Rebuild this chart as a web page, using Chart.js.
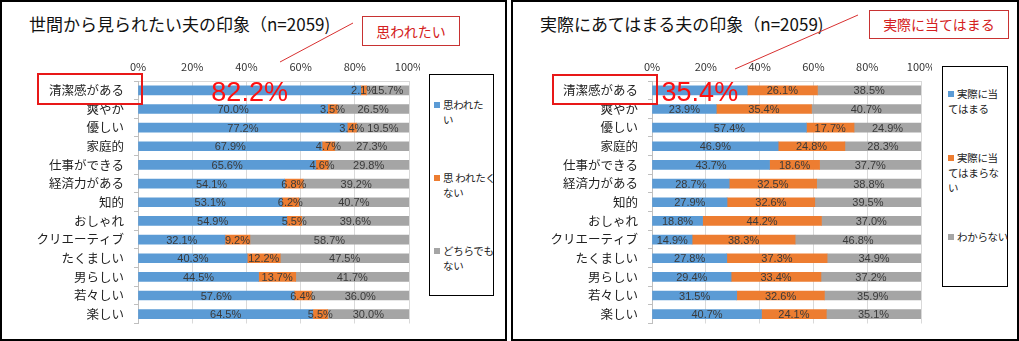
<!DOCTYPE html>
<html lang="ja">
<head>
<meta charset="utf-8">
<script src="https://cdn.jsdelivr.net/npm/chart.js@4.4.0/dist/chart.umd.min.js"></script>
<style>
body { margin:0; width:1019px; height:341px; background:#fff; position:relative; overflow:hidden; font-family:"Noto Sans CJK JP", sans-serif; color:#222; }
.panel { position:absolute; top:0; height:341px; border:2px solid #000; box-sizing:border-box; }
.chart-box { position:absolute; top:0; width:420px; height:341px; }
.title { position:absolute; top:14px; font-size:17px; line-height:20px; white-space:nowrap; color:#111; }
.legend { position:absolute; border:1.5px solid #000; box-sizing:border-box; display:flex; flex-direction:column; justify-content:space-between; background:#fff; }
.legend .item { font-size:10.5px; line-height:15px; letter-spacing:-0.3px; color:#222; display:flex; white-space:pre; }
.legend .mark { display:inline-block; width:6px; height:6px; margin:5px 3px 0 0; flex:none; }
.legend.inline .item { display:block; font-size:10.5px; }
.legend.inline .mark { margin:0 3px 1px 0; }
.callout { position:absolute; border:1px solid #c83232; color:#d42020; box-sizing:border-box; text-align:center; background:#fff; white-space:nowrap; }
.hilite { position:absolute; border:2px solid #e81818; box-sizing:border-box; }
svg { position:absolute; left:0; top:0; }
</style>
</head>
<body>
<div class="panel" style="left:0;width:507px;"></div>
<div class="panel" style="left:511px;width:508px;"></div>

<div class="title" style="left:29px;">世間から見られたい夫の印象（n=2059)</div>
<div class="title" style="left:540px;">実際にあてはまる夫の印象（n=2059)</div>

<div class="chart-box" style="left:0;"><canvas id="wantChart" width="420" height="341"></canvas></div>
<div class="chart-box" style="left:512px;"><canvas id="actualChart" width="420" height="341"></canvas></div>

<div class="legend" id="wantLegend" style="left:429px;top:74px;width:65px;height:222px;padding:22px 0 22px 4px;"></div>
<div class="legend inline" id="actualLegend" style="left:942px;top:66px;width:66px;height:221px;padding:19px 0 42px 5px;"></div>

<svg width="1019" height="341">
  <line x1="353" y1="23" x2="280" y2="62" stroke="#d83030" stroke-width="1"/>
  <line x1="858" y1="15" x2="735" y2="69" stroke="#d83030" stroke-width="1"/>
</svg>
<div class="callout" style="left:362px;top:16px;width:98px;height:30px;font-size:14px;line-height:28px;">思われたい</div>
<div class="callout" style="left:869px;top:10px;width:140px;height:29px;font-size:14px;line-height:27px;">実際に当てはまる</div>
<div class="hilite" style="left:37px;top:73px;width:106px;height:32px;"></div>
<div class="hilite" style="left:552px;top:74px;width:106px;height:31px;"></div>

<script>
const categories = ['清潔感がある', '爽やか', '優しい', '家庭的', '仕事ができる', '経済力がある', '知的', 'おしゃれ', 'クリエーティブ', 'たくましい', '男らしい', '若々しい', '楽しい'];

// left chart: how they want to be seen
const wantSeries = ['思われたい', '思われたくない', 'どちらでもない'];
const wantLegendLines = [['思われた', 'い'], ['思 われたく', 'ない'], ['どちらでも', 'ない']];
const wantYes = [82.2, 70.0, 77.2, 67.9, 65.6, 54.1, 53.1, 54.9, 32.1, 40.3, 44.5, 57.6, 64.5];
const wantNo = [2.1, 3.5, 3.4, 4.7, 4.6, 6.8, 6.2, 5.5, 9.2, 12.2, 13.7, 6.4, 5.5];
const wantNeither = [15.7, 26.5, 19.5, 27.3, 29.8, 39.2, 40.7, 39.6, 58.7, 47.5, 41.7, 36.0, 30.0];

// right chart: how they actually are
const actualSeries = ['実際に当てはまる', '実際に当てはまらない', 'わからない'];
const actualLegendLines = [['実際に当', 'てはまる'], ['実際に当', 'てはまらな', 'い'], ['わからない']];
const actualYes = [35.4, 23.9, 57.4, 46.9, 43.7, 28.7, 27.9, 18.8, 14.9, 27.8, 29.4, 31.5, 40.7];
const actualNo = [26.1, 35.4, 17.7, 24.8, 18.6, 32.5, 32.6, 44.2, 38.3, 37.3, 33.4, 32.6, 24.1];
const actualUnknown = [38.5, 40.7, 24.9, 28.3, 37.7, 38.8, 39.5, 37.0, 46.8, 34.9, 37.2, 35.9, 35.1];

const xTickValues = [0, 20, 40, 60, 80, 100];
const highlightRow = 0;

const colors = ['#5b9bd5', '#ed7d31', '#a5a5a5'];

Chart.defaults.font.family = '"Noto Sans CJK JP", sans-serif';
Chart.defaults.color = '#333';

// value labels in the middle of each segment, first blue one drawn big and red
const barLabels = {
    id: 'barLabels',
    afterDatasetsDraw(chart) {
        const ctx = chart.ctx;
        ctx.save();
        ctx.textAlign = 'center';
        ctx.textBaseline = 'middle';
        chart.data.datasets.forEach((ds, di) => {
            chart.getDatasetMeta(di).data.forEach((bar, i) => {
                const big = di === 0 && i === highlightRow;
                ctx.font = big ? '27px "Liberation Sans", sans-serif' : '11px "Liberation Sans", sans-serif';
                ctx.fillStyle = big ? '#ff1010' : '#3a3a3a';
                const x = (bar.x + bar.base) / 2;
                ctx.fillText(ds.data[i].toFixed(1) + '%', x, bar.y + (big ? 3 : 1));
            });
        });
        ctx.restore();
    }
};

function makeChart(id, series, values, yWidth) {
    const ctx = document.getElementById(id).getContext('2d');
    return new Chart(ctx, {
        type: 'bar',
        data: {
            labels: categories,
            datasets: series.map((name, k) => ({
                label: name,
                data: values[k],
                backgroundColor: colors[k],
                borderWidth: 0,
                barThickness: 9
            }))
        },
        options: {
            indexAxis: 'y',
            responsive: false,
            animation: false,
            devicePixelRatio: 1,
            layout: { padding: { left: 0, right: 11, top: 50, bottom: 13 } },
            plugins: {
                legend: { display: false },
                tooltip: { enabled: false }
            },
            scales: {
                x: {
                    position: 'top',
                    stacked: true,
                    min: 0,
                    max: 100,
                    afterFit: s => { s.height = 31; s.paddingLeft = 0; s.paddingRight = 0; },
                    afterBuildTicks: s => { s.ticks = xTickValues.map(v => ({ value: v })); },
                    grid: { color: '#d9d9d9', drawTicks: false },
                    border: { color: '#d9d9d9' },
                    ticks: {
                        padding: 8,
                        color: '#333',
                        font: { size: 11 },
                        callback: v => v + '%'
                    }
                },
                y: {
                    stacked: true,
                    afterFit: s => { s.width = yWidth; },
                    grid: { drawOnChartArea: false, drawTicks: true, tickLength: 4, offset: true, color: '#bfbfbf' },
                    border: { color: '#bfbfbf' },
                    ticks: { padding: 10, color: '#222', font: { size: 12.5 } }
                }
            }
        },
        plugins: [barLabels]
    });
}

function makeLegend(id, lines) {
    const box = document.getElementById(id);
    box.innerHTML = lines.map((ls, k) => {
        if (box.classList.contains('inline')) {
            return `<div class="item"><span class="mark" style="background:${colors[k]}"></span>${ls.join('<br>')}</div>`;
        }
        return `<div class="item"><span class="mark" style="background:${colors[k]}"></span><span>${ls.join('<br>')}</span></div>`;
    }).join('');
}

makeChart('wantChart', wantSeries, [wantYes, wantNo, wantNeither], 138);
makeChart('actualChart', actualSeries, [actualYes, actualNo, actualUnknown], 140);
makeLegend('wantLegend', wantLegendLines);
makeLegend('actualLegend', actualLegendLines);
</script>
</body>
</html>
